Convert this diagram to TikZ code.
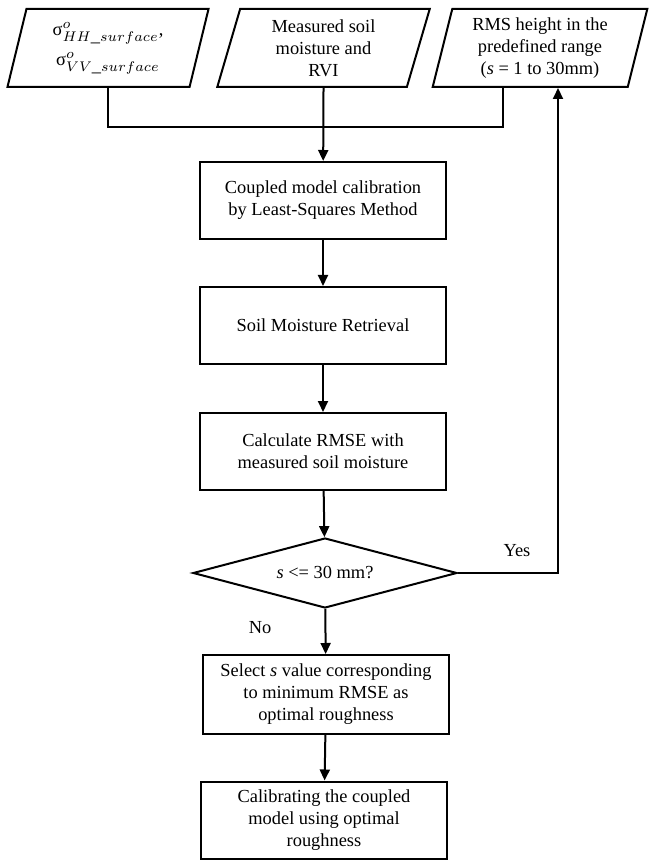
\documentclass[tikz,border=0pt]{standalone}
\usepackage{fontspec}
\setmainfont{Liberation Serif}
\DeclareMathSizes{9.2}{9.2}{7.2}{5}
\usetikzlibrary{shapes.geometric,arrows.meta}

\begin{document}
\begin{tikzpicture}[x=0.5pt, y=-0.5pt, line width=1pt,
    font=\fontsize{9.2}{11}\selectfont,
    inbox/.style={trapezium, trapezium left angle=76, trapezium right angle=104,
        trapezium stretches=true, draw, align=center, minimum height=39pt, inner sep=0pt},
    procbox/.style={rectangle, draw, align=center, minimum width=123pt,
        minimum height=38.5pt, inner sep=0pt},
    decbox/.style={diamond, draw, shape aspect=3.8, minimum width=132pt,
        minimum height=35pt, inner sep=0pt},
    flow/.style={-{Triangle[length=5.5pt,width=5pt]}}]

    \useasboundingbox (0,0) rectangle (650,860);

    % Inputs
    \node[inbox, minimum width=101pt] (sigma) at (108,48)
        {σ$^{o}_{HH\_surface}$,\\[4pt]σ$^{o}_{VV\_surface}$};
    \node[inbox, minimum width=106.5pt] (soil) at (323.5,48)
        {Measured soil\\moisture and\\RVI};
    \node[inbox, minimum width=108pt] (rms) at (540,48)
        {RMS height in the\\predefined range\\(\textit{s} = 1 to 30mm)};

    % Main chain
    \node[procbox] (calib) at (323,200.5) {Coupled model calibration\\by Least-Squares Method};
    \node[procbox] (retr) at (323,325.5) {Soil Moisture Retrieval};
    \node[procbox] (rmse) at (323,451.5) {Calculate RMSE with\\measured soil moisture};
    \node[decbox] (check) at (325,573) {\textit{s} <= 30 mm?};
    \node[procbox, minimum height=39.5pt] (select) at (326,694.5)
        {Select \textit{s} value corresponding\\to minimum RMSE as\\optimal roughness};
    \node[procbox] (final) at (324,820) {Calibrating the coupled\\model using optimal\\roughness};

    % Labels
    \node (yeslbl) at (517,551) {Yes};
    \node (nolbl) at (260,628) {No};

    % Connectors
    \coordinate (join) at (503,127);
    \coordinate (loop) at (558,573);
    \draw (sigma.south) |- (join) -- (join |- rms.south);
    \draw[flow] (soil.south) -- (calib);
    \draw[flow] (calib) -- (retr);
    \draw[flow] (retr) -- (rmse);
    \draw[flow] (rmse) -- (check);
    \draw[flow] (check) -- (select);
    \draw[flow] (select) -- (final);
    \draw[flow] (check.east) -- (loop) -- (loop |- rms.south);

\end{tikzpicture}
\end{document}
